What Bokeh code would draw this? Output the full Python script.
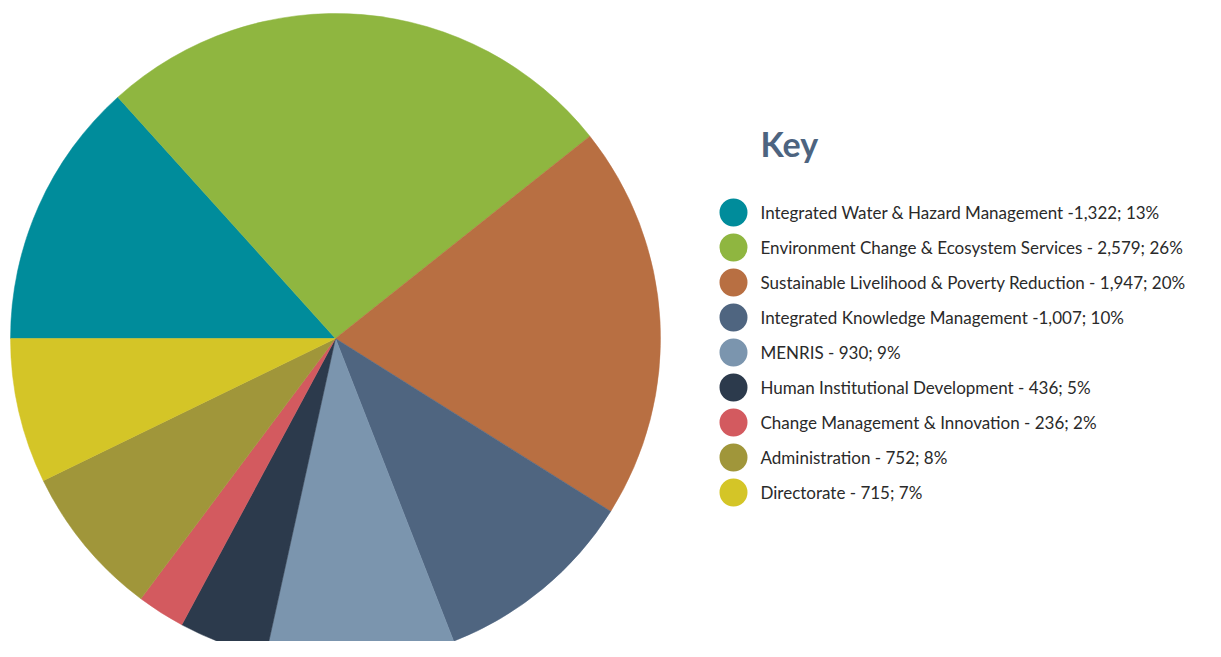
import math
from bokeh.plotting import figure
from bokeh.models import Range1d, ColumnDataSource
from bokeh.core.properties import value
from bokeh.embed import file_html
from bokeh.resources import INLINE

categories = [
    "Integrated Water & Hazard Management",
    "Environment Change & Ecosystem Services",
    "Sustainable Livelihood & Poverty Reduction",
    "Integrated Knowledge Management",
    "MENRIS",
    "Human Institutional Development",
    "Change Management & Innovation",
    "Administration",
    "Directorate",
]
values = [1322, 2579, 1947, 1007, 930, 436, 236, 752, 715]
legend_labels = [
    "Integrated Water & Hazard Management -1,322; 13%",
    "Environment Change & Ecosystem Services - 2,579; 26%",
    "Sustainable Livelihood & Poverty Reduction - 1,947; 20%",
    "Integrated Knowledge Management -1,007; 10%",
    "MENRIS - 930; 9%",
    "Human Institutional Development - 436; 5%",
    "Change Management & Innovation - 236; 2%",
    "Administration - 752; 8%",
    "Directorate - 715; 7%",
]
colors = ["#008C9B", "#8FB640", "#B86F42", "#4F6580", "#7B95AE",
          "#2C3A4C", "#D35A5F", "#A0963A", "#D4C527"]

W, H = 1205, 641
p = figure(width=W, height=H, output_backend="svg", toolbar_location=None,
           x_range=Range1d(0, W), y_range=Range1d(0, H), min_border=0)
p.axis.visible = False
p.grid.visible = False
p.outline_line_color = None
p.background_fill_color = "white"

total = float(sum(values))
starts, ends = [], []
cum = 0.0
for v in values:
    starts.append(math.pi - 2 * math.pi * cum / total)
    cum += v
    ends.append(math.pi - 2 * math.pi * cum / total)

src = ColumnDataSource(dict(start=starts, end=ends, color=colors, cat=categories))
p.wedge(x=335, y=303, radius=325, start_angle="start", end_angle="end",
        direction="clock", fill_color="color", line_color="color", line_width=0.5,
        source=src)

# Key title
p.text(x=[760], y=[498], text=["Key"], text_font=value("Lato"), text_font_style="bold",
       text_font_size="34px", text_color="#4D6480", text_baseline="middle")

ys = [429 - 35 * i for i in range(len(values))]
lsrc = ColumnDataSource(dict(x=[733] * len(values), tx=[760] * len(values), y=ys,
                             color=colors, label=legend_labels))
p.scatter(x="x", y="y", size=28, marker="circle", fill_color="color", line_color=None,
          source=lsrc)
p.text(x="tx", y="y", text="label", text_font=value("Lato"), text_font_size="17px",
       text_color="#2A2A2A", text_baseline="middle", source=lsrc)

open("out.html", "w").write(file_html(p, INLINE))
